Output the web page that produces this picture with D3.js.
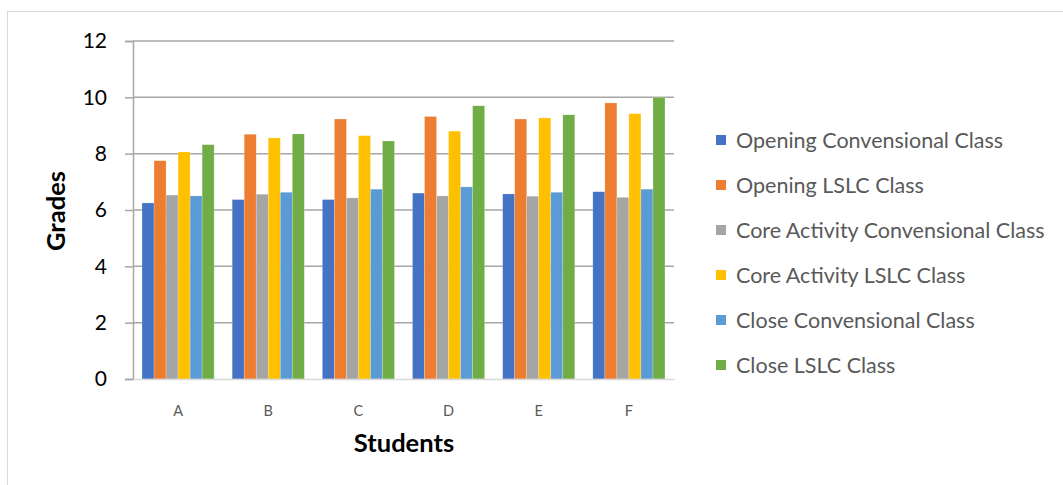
<!DOCTYPE html>
<html>
<head>
<meta charset="utf-8">
<script src="https://cdn.jsdelivr.net/npm/d3@7"></script>
<style>
  html, body { margin: 0; padding: 0; background: #fff; }
  svg { display: block; }
  text { font-family: Lato, "Open Sans", sans-serif; }
</style>
</head>
<body>
<svg id="chart" width="1063" height="485"></svg>
<script>
// Students on the x axis
const students = ["A", "B", "C", "D", "E", "F"];

// Series names (legend order) and their fill colours
const seriesNames = [
  "Opening Convensional Class",
  "Opening LSLC Class",
  "Core Activity Convensional Class",
  "Core Activity LSLC Class",
  "Close Convensional Class",
  "Close LSLC Class"
];
const seriesColors = ["#4472c4", "#ed7d31", "#a5a5a5", "#ffc000", "#5b9bd5", "#70ad47"];

// Grades per series, one value per student A..F
const openingConv  = [6.25, 6.37, 6.37, 6.60, 6.57, 6.65];
const openingLSLC  = [7.75, 8.69, 9.23, 9.32, 9.23, 9.80];
const coreConv     = [6.53, 6.56, 6.43, 6.50, 6.49, 6.45];
const coreLSLC     = [8.06, 8.56, 8.64, 8.80, 9.27, 9.42];
const closeConv    = [6.50, 6.63, 6.74, 6.82, 6.63, 6.74];
const closeLSLC    = [8.32, 8.70, 8.45, 9.70, 9.38, 10.0];

const seriesValues = [openingConv, openingLSLC, coreConv, coreLSLC, closeConv, closeLSLC];

// Y axis ticks
const yTicks = [0, 2, 4, 6, 8, 10, 12];

const svg = d3.select("#chart");

// outer chart frame
svg.append("rect")
  .attr("x", 7.5).attr("y", 11.5)
  .attr("width", 1070).attr("height", 490)
  .attr("fill", "none").attr("stroke", "#d9d9d9").attr("stroke-width", 1);

const plot = { left: 133, right: 674, top: 41, bottom: 379 };

const x0 = d3.scaleBand()
  .domain(students)
  .range([plot.left, plot.right])
  .paddingInner(0)
  .paddingOuter(0);

// 6 bars per band with a gap of 1.5 bar widths
const groupInner = x0.bandwidth() * 6 / 7.5;
const x1 = d3.scaleBand()
  .domain(d3.range(seriesNames.length))
  .range([0, groupInner]);

const y = d3.scaleLinear().domain([0, 12]).range([plot.bottom, plot.top]);

// horizontal gridlines
svg.append("g")
  .selectAll("line")
  .data(yTicks.filter(t => t > 0))
  .join("line")
  .attr("x1", plot.left).attr("x2", plot.right)
  .attr("y1", d => y(d)).attr("y2", d => y(d))
  .attr("stroke", "#a6a6a6").attr("stroke-width", 1.5);

// bars
const groups = svg.append("g")
  .selectAll("g")
  .data(students)
  .join("g")
  .attr("transform", d => `translate(${x0(d) + (x0.bandwidth() - groupInner) / 2},0)`);

groups.selectAll("rect")
  .data((d, i) => seriesValues.map((vals, s) => ({ s, v: vals[i] })))
  .join("rect")
  .attr("x", d => x1(d.s))
  .attr("width", x1.bandwidth())
  .attr("y", d => y(d.v))
  .attr("height", d => y(0) - y(d.v))
  .attr("fill", d => seriesColors[d.s])
  .attr("stroke", "#ffffff").attr("stroke-opacity", 0.35).attr("stroke-width", 0.6);

// y axis
const yAxis = d3.axisLeft(y).tickValues(yTicks).tickSize(8).tickPadding(18);
const yg = svg.append("g").attr("transform", `translate(${plot.left},0)`).call(yAxis);
yg.select(".domain").attr("stroke", "#a6a6a6").attr("stroke-width", 1.5);
yg.selectAll(".tick line").attr("stroke", "#a6a6a6").attr("stroke-width", 1.5);
yg.selectAll(".tick text")
  .attr("font-family", "Lato, 'Open Sans', sans-serif")
  .attr("font-size", 21).attr("fill", "#000");

// x axis
const xAxis = d3.axisBottom(x0).tickSize(0).tickPadding(27);
const xg = svg.append("g").attr("transform", `translate(0,${plot.bottom})`).call(xAxis);
xg.select(".domain").attr("stroke", "#d9d9d9").attr("stroke-width", 1.5);
xg.selectAll(".tick text")
  .attr("font-family", "Lato, 'Open Sans', sans-serif")
  .attr("font-size", 14.5).attr("fill", "#595959");

// axis titles
svg.append("text")
  .attr("transform", "translate(65,211) rotate(-90)")
  .attr("text-anchor", "middle")
  .attr("font-size", 25.5).attr("font-weight", "bold").attr("fill", "#000")
  .text("Grades");

svg.append("text")
  .attr("x", 404).attr("y", 452)
  .attr("text-anchor", "middle")
  .attr("font-size", 25.5).attr("font-weight", "bold").attr("fill", "#000")
  .text("Students");

// legend
const legend = svg.append("g")
  .selectAll("g")
  .data(seriesNames)
  .join("g")
  .attr("transform", (d, i) => `translate(716,${140 + i * 45})`);

legend.append("rect")
  .attr("x", 0).attr("y", -5)
  .attr("width", 10).attr("height", 10)
  .attr("fill", (d, i) => seriesColors[i]);

legend.append("text")
  .attr("x", 20).attr("y", 0)
  .attr("dy", "0.35em")
  .attr("font-size", 21.5).attr("fill", "#595959")
  .text(d => d);
</script>
</body>
</html>
